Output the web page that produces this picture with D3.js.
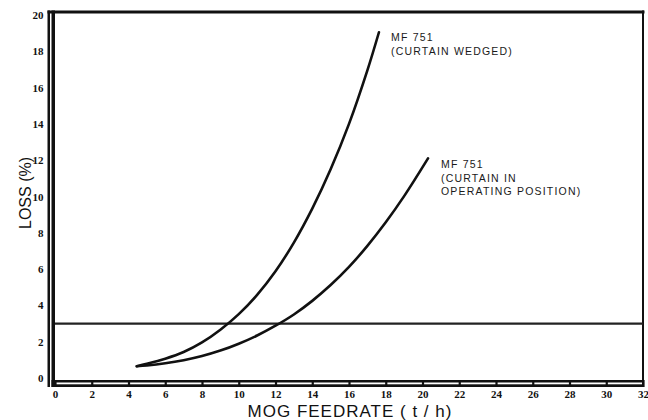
<!DOCTYPE html>
<html><head><meta charset="utf-8">
<script src="https://cdn.jsdelivr.net/npm/d3@7"></script>
<style>
html,body{margin:0;padding:0;background:#fff;}
svg{display:block;}
</style></head>
<body>
<svg id="c" width="648" height="420"></svg>
<script>
// ---- data ----
const xTicks = [0,2,4,6,8,10,12,14,16,18,20,22,24,26,28,30,32];
const yTicks = [0,2,4,6,8,10,12,14,16,18,20];
const wedgedX = [4.45,5,6,7,8,9,10,11,12,13,14,15,16,17,17.63];
const wedgedY = [0.65,0.78,1.06,1.43,1.96,2.66,3.52,4.58,5.88,7.46,9.33,11.5,14.0,16.95,19.05];
const operX = [4.45,5,6,7,8,9,10,11,12,13,14,15,16,17,18,19,20.3];
const operY = [0.65,0.69,0.81,0.98,1.21,1.51,1.89,2.34,2.88,3.5,4.25,5.12,6.12,7.28,8.58,10.02,12.1];
const limitLoss = 3;
const wedgedLabel = ["MF 751","(CURTAIN WEDGED)"];
const operLabel = ["MF 751","(CURTAIN IN","OPERATING POSITION)"];
const xTitle = "MOG  FEEDRATE ( t / h)";
const yTitle = "LOSS (%)";

(function(){
// ---- scales ----
const x = d3.scaleLinear().domain([0,32]).range([55,643]);
const y = d3.scaleLinear().domain([0,20]).range([378,15]);
const svg = d3.select("#c");

// frame
const fL = x(0), fR = x(32), fT = 10.5, fB = 380;
svg.append("rect").attr("x",fL-7.5).attr("y",fT).attr("width",2.5).attr("height",fB+7-fT).attr("fill","#111");
svg.append("rect").attr("x",fL-3.5).attr("y",fT).attr("width",3.5).attr("height",fB+7-fT).attr("fill","#111");
svg.append("rect").attr("x",fL-7.5).attr("y",fT).attr("width",fR-fL+9).attr("height",3).attr("fill","#111");
svg.append("rect").attr("x",fR-1).attr("y",fT).attr("width",2).attr("height",fB-fT).attr("fill","#111");
svg.append("rect").attr("x",fL-3.5).attr("y",fB).attr("width",fR-fL+4.5).attr("height",7).attr("fill","#111");
svg.append("rect").attr("x",fL).attr("y",fB+2.5).attr("width",fR-fL-1).attr("height",1.8).attr("fill","#fff");

// x axis
const gx = svg.append("g").attr("transform",`translate(0,${fB})`)
  .call(d3.axisBottom(x).tickValues(xTicks).tickSizeInner(7).tickSizeOuter(0).tickPadding(3));
gx.select(".domain").remove();
gx.selectAll(".tick line").attr("stroke","#111").attr("stroke-width",2.2);
gx.selectAll(".tick text").attr("font-family","Liberation Serif").attr("font-weight","bold").attr("font-size",11).attr("fill","#111");

// y axis
const gy = svg.append("g").attr("transform",`translate(${fL-7.5},0)`)
  .call(d3.axisLeft(y).tickValues(yTicks).tickSize(0).tickPadding(4));
gy.select(".domain").remove();
gy.selectAll(".tick text").attr("font-family","Liberation Serif").attr("font-weight","bold").attr("font-size",11).attr("fill","#111");

// limit line
svg.append("line").attr("x1",fL).attr("x2",fR).attr("y1",y(limitLoss)).attr("y2",y(limitLoss))
  .attr("stroke","#222").attr("stroke-width",2.2);

// curves
const line = d3.line().x(d=>x(d[0])).y(d=>y(d[1])).curve(d3.curveCatmullRom);
svg.append("path").datum(wedgedX.map((v,i)=>[v,wedgedY[i]])).attr("d",line)
  .attr("fill","none").attr("stroke","#111").attr("stroke-width",2.6).attr("stroke-linecap","round");
svg.append("path").datum(operX.map((v,i)=>[v,operY[i]])).attr("d",line)
  .attr("fill","none").attr("stroke","#111").attr("stroke-width",2.6).attr("stroke-linecap","round");

// annotations
function label(lines, px, py){
  const t = svg.append("text").attr("font-family","Liberation Sans").attr("font-size",10.5)
    .attr("letter-spacing","1.2px").attr("fill","#1a1a1a");
  lines.forEach((s,i)=>t.append("tspan").attr("x",px).attr("y",py+i*13.5).text(s));
}
label(wedgedLabel, 391, 41);
label(operLabel, 441, 168);

// titles
svg.append("text").attr("x",(fL+fR)/2+1).attr("y",417).attr("text-anchor","middle")
  .attr("font-family","Liberation Sans").attr("font-size",17).attr("letter-spacing","1px").attr("fill","#111").text(xTitle);
svg.append("text").attr("transform","translate(31,193) rotate(-90)").attr("text-anchor","middle")
  .attr("font-family","Liberation Sans").attr("font-size",16).attr("fill","#111").text(yTitle);
})();
</script>
</body></html>
